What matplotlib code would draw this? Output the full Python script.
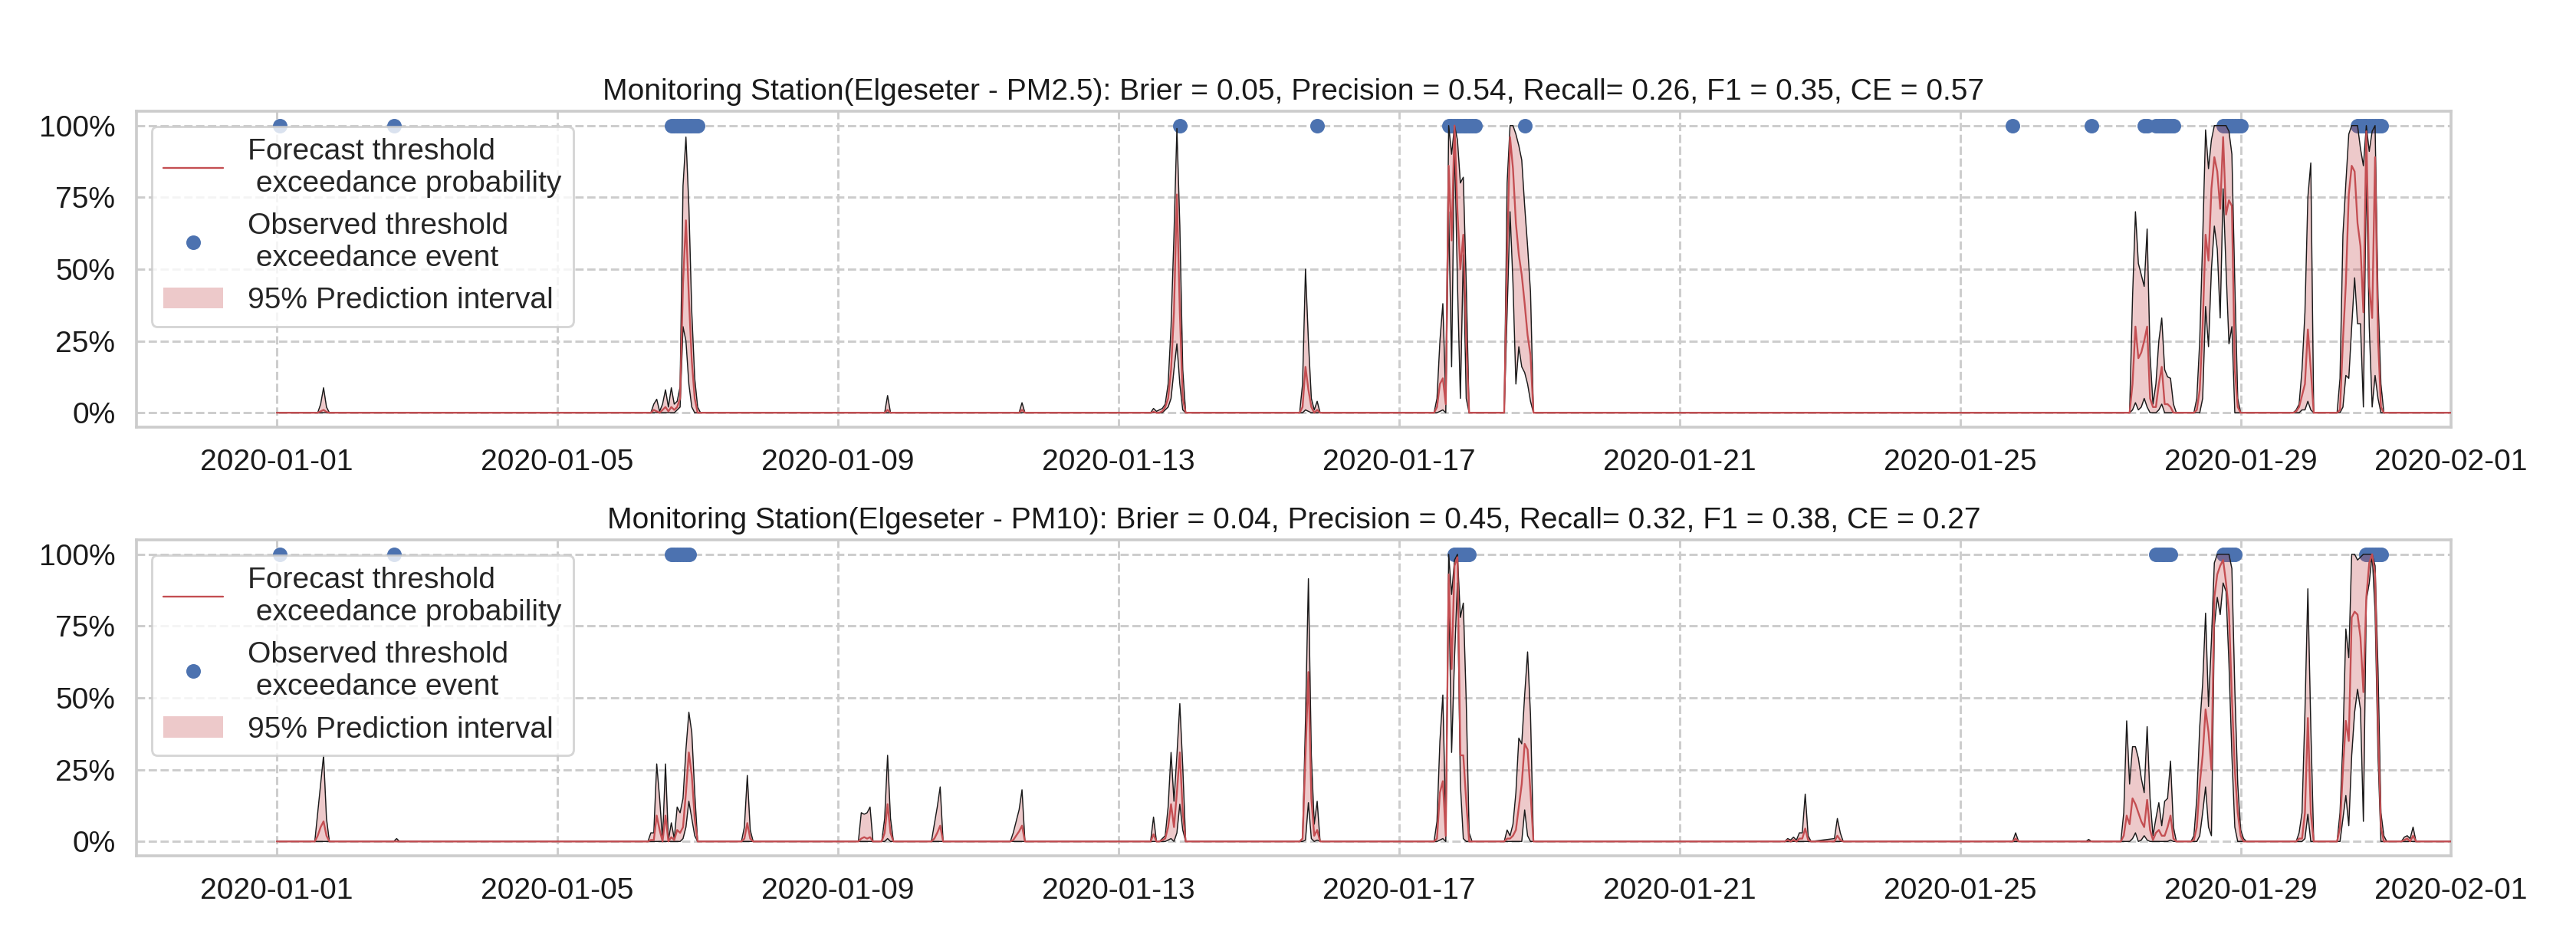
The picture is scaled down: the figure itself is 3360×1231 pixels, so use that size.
import numpy as np
import pandas as pd
import matplotlib
matplotlib.use('Agg')
import matplotlib.pyplot as plt
from matplotlib.ticker import PercentFormatter
import seaborn as sns

# hourly forecasts, hours counted from 2020-01-01 00:00; quiet hours in between are 0
pm25_hours = [0, 14, 15, 16, 17, 18,
              128, 129, 130, 131, 132, 133, 134, 135, 136, 137, 138, 139, 140, 141, 142, 143, 144, 145,
              208, 209, 210, 254, 255, 256,
              299, 300, 301, 302, 303, 304, 305, 306, 307, 308, 309, 310, 311,
              350, 351, 352, 353, 354, 355, 356, 357,
              396, 397, 398, 399, 400, 401, 402, 403, 404, 405, 406, 407, 408,
              420, 421, 422, 423, 424, 425, 426, 427, 428, 429, 430,
              634, 635, 636, 637, 638, 639, 640, 641, 642, 643, 644, 645, 646, 647, 648, 649, 650,
              656, 657, 658, 659, 660, 661, 662, 663, 664, 665, 666, 667, 668, 669, 670, 671, 672,
              690, 691, 692, 693, 694, 695, 696, 697,
              705, 706, 707, 708, 709, 710, 711, 712, 713, 714, 715, 716, 717, 718, 719, 720, 721,
              744]
pm25_lower = [0, 0, 0, 0, 0, 0,
              0, 0, 0, 0, 0, 0, 0, 0, 0, 0.01, 0.02, 0.30, 0.25, 0.10, 0.02, 0, 0, 0,
              0, 0, 0, 0, 0, 0,
              0, 0, 0, 0, 0, 0.01, 0.02, 0.05, 0.15, 0.24, 0.10, 0.01, 0,
              0, 0, 0.01, 0.005, 0, 0, 0, 0,
              0, 0, 0.005, 0.01, 0, 0.70, 0.16, 0.95, 0.45, 0.05, 0.55, 0.05, 0,
              0, 0.35, 0.70, 0.45, 0.10, 0.23, 0.16, 0.14, 0.10, 0.04, 0,
              0, 0.01, 0.035, 0.01, 0.02, 0.05, 0.02, 0, 0, 0, 0.01, 0.03, 0, 0, 0, 0, 0,
              0, 0, 0, 0.05, 0.37, 0.23, 0.50, 0.65, 0.57, 0.33, 0.78, 0.50, 0.24, 0.30, 0, 0, 0,
              0, 0, 0, 0.01, 0.01, 0.04, 0.01, 0,
              0, 0, 0.02, 0.13, 0.12, 0.30, 0.47, 0.31, 0.31, 0.02, 0.84, 0.30, 0.02, 0.13, 0.05, 0, 0,
              0]
pm25_median = [0, 0, 0.005, 0.01, 0.003, 0,
               0, 0.01, 0.005, 0, 0.01, 0.02, 0.005, 0.02, 0.01, 0.02, 0.05, 0.45, 0.67, 0.40, 0.18, 0.05, 0, 0,
               0, 0.01, 0, 0, 0.01, 0,
               0, 0.003, 0, 0, 0.005, 0.02, 0.05, 0.15, 0.35, 0.76, 0.35, 0.05, 0,
               0, 0.02, 0.16, 0.08, 0.02, 0, 0.01, 0,
               0, 0.02, 0.10, 0.12, 0.03, 0.86, 0.60, 1.0, 0.70, 0.50, 0.62, 0.25, 0,
               0, 0.55, 0.96, 0.85, 0.66, 0.55, 0.48, 0.38, 0.27, 0.20, 0,
               0, 0.10, 0.30, 0.19, 0.21, 0.25, 0.30, 0.05, 0.02, 0.02, 0.10, 0.16, 0.03, 0.03, 0.02, 0, 0,
               0, 0.01, 0.08, 0.30, 0.62, 0.53, 0.78, 0.89, 0.84, 0.71, 0.96, 0.69, 0.74, 0.72, 0.15, 0.02, 0,
               0, 0.005, 0.02, 0.06, 0.10, 0.29, 0.15, 0,
               0, 0.01, 0.25, 0.45, 0.76, 0.86, 0.84, 0.66, 0.58, 0.35, 0.98, 0.44, 0.33, 0.89, 0.26, 0.02, 0,
               0]
pm25_upper = [0, 0, 0.03, 0.087, 0.02, 0,
              0, 0.03, 0.047, 0.005, 0.03, 0.08, 0.02, 0.087, 0.03, 0.04, 0.09, 0.79, 0.96, 0.72, 0.35, 0.12, 0.02, 0,
              0, 0.06, 0, 0, 0.035, 0,
              0, 0.015, 0.005, 0.01, 0.015, 0.03, 0.10, 0.30, 0.62, 0.99, 0.65, 0.15, 0,
              0, 0.10, 0.50, 0.25, 0.05, 0.01, 0.04, 0,
              0, 0.05, 0.25, 0.38, 0.05, 1.0, 0.90, 1.0, 0.95, 0.80, 0.82, 0.45, 0,
              0, 0.80, 1.0, 1.0, 0.97, 0.93, 0.88, 0.72, 0.58, 0.42, 0,
              0, 0.40, 0.70, 0.52, 0.48, 0.44, 0.64, 0.20, 0.03, 0.10, 0.25, 0.33, 0.15, 0.125, 0.12, 0.03, 0,
              0, 0.05, 0.25, 0.60, 0.985, 0.85, 0.95, 1.0, 1.0, 1.0, 1.0, 1.0, 0.98, 0.90, 0.45, 0.05, 0,
              0, 0.01, 0.03, 0.15, 0.35, 0.75, 0.87, 0,
              0, 0.12, 0.62, 0.80, 0.97, 1.0, 1.0, 1.0, 0.92, 0.86, 1.0, 0.91, 0.98, 1.0, 0.40, 0.10, 0,
              0]
pm25_events = [1, 40, 135, 136, 137, 138, 139, 140, 141, 142, 143, 144, 309, 356,
               401, 402, 403, 404, 405, 406, 407, 408, 409, 410, 427, 594, 621, 639, 640,
               643, 644, 645, 646, 647, 648, 649, 666, 667, 668, 669, 670, 671, 672,
               712, 713, 714, 715, 716, 717, 718, 719, 720]

pm10_hours = [0, 13, 14, 15, 16, 17, 18, 40, 41, 42,
              127, 128, 129, 130, 131, 132, 133, 134, 135, 136, 137, 138, 139, 140, 141, 142, 143, 144,
              159, 160, 161, 162, 163, 199, 200, 201, 202, 203, 204, 207, 208, 209, 210, 211,
              224, 225, 226, 227, 228, 251, 252, 253, 254, 255, 256, 299, 300, 301,
              302, 303, 304, 305, 306, 307, 308, 309, 310, 311,
              350, 351, 352, 353, 354, 355, 356, 357,
              396, 397, 398, 399, 400, 401, 402, 403, 404, 405, 406, 407, 408, 409,
              420, 421, 422, 423, 424, 425, 426, 427, 428, 429, 430,
              516, 517, 518, 519, 520, 521, 522, 523, 524, 525, 533, 534, 535, 536,
              594, 595, 596, 619, 620, 621,
              631, 632, 633, 634, 635, 636, 637, 638, 639, 640, 641, 642, 643, 644, 645, 646, 647, 648, 649, 650,
              655, 656, 657, 658, 659, 660, 661, 662, 663, 664, 665, 666, 667, 668, 669, 670, 671, 672, 673, 674,
              691, 692, 693, 694, 695, 696, 697,
              705, 706, 707, 708, 709, 710, 711, 712, 713, 714, 715, 716, 717, 718, 719, 720, 721, 722,
              727, 728, 729, 730, 731, 732, 744]
pm10_lower = [0, 0, 0, 0, 0, 0, 0, 0, 0, 0,
              0, 0, 0, 0, 0, 0, 0, 0, 0, 0, 0, 0, 0.01, 0.05, 0.14, 0.08, 0.02, 0,
              0, 0, 0, 0, 0, 0, 0, 0, 0, 0, 0, 0, 0, 0.01, 0, 0,
              0, 0, 0, 0, 0, 0, 0, 0, 0, 0, 0, 0, 0, 0,
              0, 0, 0, 0.005, 0.01, 0, 0.03, 0.13, 0.04, 0,
              0, 0, 0.005, 0.135, 0.01, 0, 0.005, 0,
              0, 0, 0.005, 0.01, 0, 0.90, 0.31, 0.64, 0.90, 0.20, 0.01, 0, 0, 0,
              0, 0, 0, 0, 0, 0, 0, 0.11, 0.02, 0, 0,
              0, 0, 0, 0, 0, 0, 0, 0, 0, 0, 0, 0, 0, 0,
              0, 0, 0, 0, 0, 0,
              0, 0, 0, 0, 0.01, 0.03, 0, 0.005, 0.02, 0.005, 0, 0, 0, 0, 0, 0, 0, 0.005, 0, 0,
              0, 0, 0, 0.02, 0.10, 0.19, 0.05, 0.02, 0.75, 0.85, 0.79, 0.90, 0.87, 0.62, 0.30, 0.05, 0, 0, 0, 0,
              0, 0, 0, 0.01, 0.095, 0, 0,
              0, 0, 0.08, 0.16, 0.055, 0.30, 0.45, 0.53, 0.46, 0.07, 0.84, 0.90, 1.0, 0.80, 0.30, 0, 0, 0,
              0, 0, 0, 0, 0, 0, 0]
pm10_median = [0, 0, 0.02, 0.05, 0.07, 0.02, 0, 0, 0, 0,
               0, 0.005, 0.005, 0.09, 0.04, 0, 0.09, 0, 0.015, 0.005, 0.04, 0.03, 0.05, 0.17, 0.31, 0.23, 0.08, 0,
               0, 0.01, 0.064, 0.01, 0, 0, 0.01, 0.015, 0.01, 0.015, 0, 0, 0.03, 0.13, 0.03, 0,
               0, 0.01, 0.03, 0.055, 0, 0, 0.005, 0.02, 0.035, 0.055, 0, 0, 0.025, 0,
               0, 0.005, 0.01, 0.05, 0.13, 0.05, 0.17, 0.31, 0.10, 0,
               0, 0.01, 0.30, 0.59, 0.15, 0.02, 0.04, 0,
               0, 0.01, 0.17, 0.21, 0.02, 0.93, 0.60, 0.96, 0.99, 0.30, 0.30, 0.14, 0, 0,
               0, 0.01, 0.01, 0.02, 0.04, 0.12, 0.20, 0.34, 0.32, 0.17, 0,
               0, 0.005, 0, 0.005, 0, 0.01, 0.01, 0.045, 0.005, 0, 0, 0.02, 0.005, 0,
               0, 0.01, 0, 0, 0, 0,
               0, 0.02, 0.09, 0.06, 0.15, 0.13, 0.10, 0.07, 0.05, 0.145, 0.04, 0.005, 0.03, 0.04, 0.02, 0.02, 0.05, 0.09, 0.01, 0,
               0, 0.005, 0.05, 0.20, 0.30, 0.46, 0.38, 0.25, 0.85, 0.93, 0.96, 0.98, 0.90, 0.80, 0.50, 0.25, 0.10, 0.02, 0, 0,
               0, 0.01, 0.01, 0.10, 0.43, 0.10, 0,
               0, 0.05, 0.25, 0.42, 0.35, 0.78, 0.80, 0.79, 0.71, 0.52, 0.85, 0.97, 1.0, 0.93, 0.40, 0.05, 0, 0,
               0, 0.005, 0.01, 0, 0.02, 0, 0]
pm10_upper = [0, 0, 0.10, 0.20, 0.30, 0.08, 0, 0, 0.01, 0,
              0, 0.03, 0.03, 0.27, 0.15, 0.005, 0.27, 0.005, 0.065, 0.01, 0.12, 0.10, 0.15, 0.32, 0.45, 0.38, 0.17, 0,
              0, 0.05, 0.23, 0.04, 0, 0, 0.10, 0.095, 0.10, 0.12, 0, 0, 0.08, 0.30, 0.08, 0,
              0, 0.06, 0.12, 0.19, 0, 0, 0.03, 0.07, 0.11, 0.18, 0, 0, 0.085, 0,
              0, 0.01, 0.02, 0.12, 0.31, 0.14, 0.30, 0.48, 0.26, 0,
              0, 0.01, 0.42, 0.915, 0.30, 0.06, 0.14, 0,
              0, 0.07, 0.35, 0.51, 0.05, 1.0, 0.86, 0.98, 1.0, 0.78, 0.83, 0.49, 0.03, 0,
              0, 0.04, 0.02, 0.06, 0.17, 0.36, 0.34, 0.51, 0.66, 0.44, 0,
              0, 0.01, 0.005, 0.015, 0.005, 0.03, 0.03, 0.165, 0.02, 0, 0.01, 0.08, 0.03, 0,
              0, 0.03, 0, 0, 0.007, 0,
              0, 0.10, 0.42, 0.20, 0.33, 0.33, 0.29, 0.22, 0.17, 0.40, 0.15, 0.02, 0.08, 0.135, 0.055, 0.14, 0.15, 0.28, 0.05, 0,
              0, 0.02, 0.15, 0.40, 0.55, 0.795, 0.47, 0.70, 0.97, 1.0, 1.0, 1.0, 1.0, 1.0, 0.95, 0.53, 0.20, 0.04, 0.01, 0,
              0, 0.03, 0.10, 0.45, 0.88, 0.40, 0,
              0, 0.10, 0.35, 0.74, 0.64, 1.0, 1.0, 0.98, 0.99, 1.0, 1.0, 1.0, 1.0, 0.96, 0.60, 0.10, 0.02, 0,
              0, 0.015, 0.02, 0.01, 0.05, 0, 0]
pm10_events = [1, 40, 135, 136, 137, 138, 139, 140, 141, 403, 404, 405, 406, 407, 408,
               643, 644, 645, 646, 647, 648, 666, 667, 668, 669, 670,
               715, 716, 717, 718, 719, 720]

titles = ['Monitoring Station(Elgeseter - PM2.5): Brier = 0.05, Precision = 0.54, Recall= 0.26, F1 = 0.35, CE = 0.57',
          'Monitoring Station(Elgeseter - PM10): Brier = 0.04, Precision = 0.45, Recall= 0.32, F1 = 0.38, CE = 0.27']

start = pd.Timestamp('2020-01-01')


def to_time(hours):
    return start + pd.to_timedelta(np.array(hours), unit='h')


sns.set_theme(style='whitegrid', rc={'grid.linestyle': '--'})
plt.rcParams['font.family'] = ['Liberation Sans', 'DejaVu Sans']

fig, axes = plt.subplots(2, 1, figsize=(16, 1231 / 210), dpi=210)
fig.subplots_adjust(left=0.053, right=0.9515, bottom=0.0934, top=0.8822, hspace=0.357)

red = '#C44E52'
blue = '#4C72B0'
fs = 13.4
series = [(pm25_hours, pm25_lower, pm25_median, pm25_upper, pm25_events),
          (pm10_hours, pm10_lower, pm10_median, pm10_upper, pm10_events)]

for ax, (hrs, lo, mid, hi, ev), title in zip(axes, series, titles):
    t = to_time(hrs)
    ax.plot(to_time(ev), np.ones(len(ev)), 'o', color=blue, markersize=5.5, zorder=2,
            label='Observed threshold\n exceedance event')
    ax.fill_between(t, lo, hi, color=red, alpha=0.3, lw=0, zorder=3, label='95% Prediction interval')
    ax.plot(t, lo, color='k', lw=0.5, zorder=4)
    ax.plot(t, hi, color='k', lw=0.5, zorder=4)
    ax.plot(t, mid, color=red, lw=0.8, zorder=5, label='Forecast threshold\n exceedance probability')
    ax.set_xlim(pd.Timestamp('2019-12-30'), pd.Timestamp('2020-02-01'))
    ax.set_ylim(-0.05, 1.05)
    ax.set_yticks([0, 0.25, 0.5, 0.75, 1.0])
    ax.yaxis.set_major_formatter(PercentFormatter(1.0, decimals=0))
    ax.tick_params(labelsize=fs, colors='#1a1a1a')
    ax.set_title(title, fontsize=fs, pad=5, color='#1a1a1a')
    h, l = ax.get_legend_handles_labels()
    order = [2, 0, 1]
    ax.legend([h[i] for i in order], [l[i] for i in order], loc='upper left', fontsize=fs)

fig.savefig('out.png', dpi=210)
